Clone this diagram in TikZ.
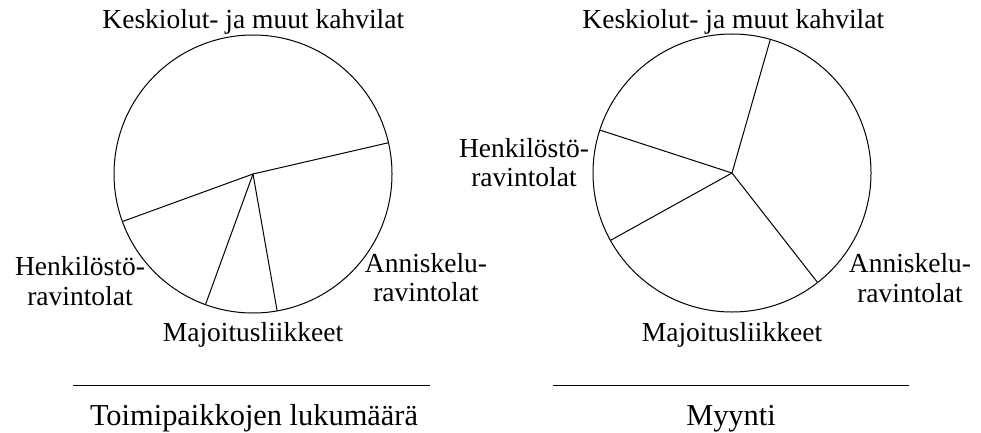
\documentclass[tikz,border=0pt]{standalone}
\usepackage{fontspec}
\setmainfont{Liberation Serif}
\begin{document}
\begin{tikzpicture}[x=1pt,y=-1pt,
  lbl/.style={inner sep=0pt,outer sep=0pt,anchor=base,align=center,
    font=\fontsize{27.5}{29.5}\selectfont},
  ttl/.style={lbl,font=\fontsize{30.4}{33}\selectfont},
  pie/.style={circle,draw,line width=1pt,minimum size=278pt,inner sep=0pt,outer sep=0pt},
  spoke/.style={line width=1pt},
  rule/.style={line width=1pt}]
\useasboundingbox (0,0) rectangle (981,433);

% number of establishments (two-line labels are placed by their last baseline)
\node[pie] (pieL) at (253,174) {};
\draw[spoke] (pieL.center) -- (pieL.13.2);
\draw[spoke] (pieL.center) -- (pieL.200.2);
\draw[spoke] (pieL.center) -- (pieL.250);
\draw[spoke] (pieL.center) -- (pieL.280.9);
\node[lbl] (kL) at (253.3,29) {Keskiolut- ja muut kahvilat};
\node[lbl] (hL) at (80,305) {Henkilöstö-\\ravintolat};
\node[lbl] (aL) at (426,301.7) {Anniskelu-\\ravintolat};
\node[lbl] (mL) at (253,341.7) {Majoitusliikkeet};
\coordinate (rL1) at (73,385);
\coordinate (rL2) at (430,385);
\draw[rule] (rL1) -- (rL2);
\node[ttl] (tL) at (254,425) {Toimipaikkojen lukumäärä};

% sales
\node[pie] (pieR) at (732,173) {};
\draw[spoke] (pieR.center) -- (pieR.74.7);
\draw[spoke] (pieR.center) -- (pieR.162);
\draw[spoke] (pieR.center) -- (pieR.209.7);
\draw[spoke] (pieR.center) -- (pieR.308.5);
\node[lbl] (kR) at (733.3,29) {Keskiolut- ja muut kahvilat};
\node[lbl] (hR) at (524,186.7) {Henkilöstö-\\ravintolat};
\node[lbl] (aR) at (910,302) {Anniskelu-\\ravintolat};
\node[lbl] (mR) at (732,341.7) {Majoitusliikkeet};
\coordinate (rR1) at (552.7,385);
\coordinate (rR2) at (909.3,385);
\draw[rule] (rR1) -- (rR2);
\node[ttl] (tR) at (731,425) {Myynti};
\end{tikzpicture}
\end{document}
